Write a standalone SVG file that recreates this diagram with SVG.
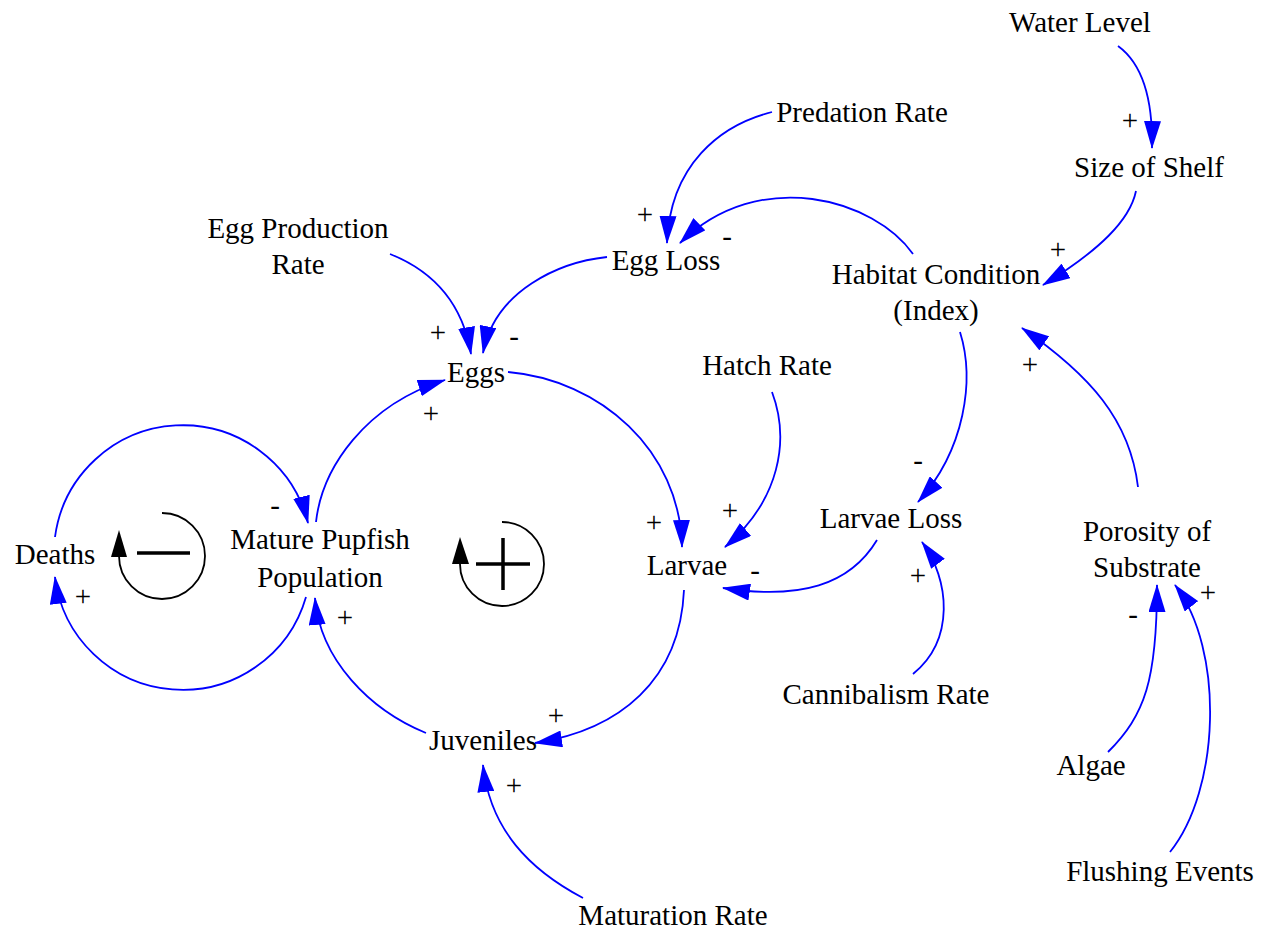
<svg xmlns="http://www.w3.org/2000/svg" width="1272" height="935" viewBox="0 0 1272 935">
<style>
.lbl{font-family:"Liberation Serif","Times New Roman",serif;font-size:29px;fill:#000;text-anchor:middle}
.link{fill:none;stroke:#0000ff;stroke-width:1.8;marker-end:url(#ah)}
.loop{fill:none;stroke:#000;stroke-width:1.8}
.sym{fill:none;stroke:#000;stroke-width:3.5}
</style>
<defs>
<marker id="ah" viewBox="0 0 28 17" refX="27" refY="8.5" markerWidth="28" markerHeight="17" markerUnits="userSpaceOnUse" orient="auto">
<path d="M0,0 L28,8.5 L0,17 z" fill="#0000ff"/>
</marker>
</defs>
<rect width="1272" height="935" fill="#fff"/>
<g id="connectors">
<path class="link" d="M1118,46 C1140,62 1153,95 1152,148"/>
<path class="link" d="M1136,191 C1130,220 1100,250 1043,285"/>
<path class="link" d="M772,112 C720,125 670,165 667,243"/>
<path class="link" d="M913,254 C875,200 760,165 680,243"/>
<path class="link" d="M607,257 C560,262 495,290 483,353"/>
<path class="link" d="M390,254 C430,270 462,300 471,354"/>
<path class="link" d="M316,522 C322,468 365,405 445,380"/>
<path class="link" d="M508,372 C600,380 680,450 682,547"/>
<path class="link" d="M772,392 C790,440 780,500 725,547"/>
<path class="link" d="M960,332 C975,380 965,450 918,502"/>
<path class="link" d="M877,540 C850,585 800,600 723,588"/>
<path class="link" d="M913,674 C955,640 950,580 922,542"/>
<path class="link" d="M1138,487 C1130,420 1090,375 1022,328"/>
<path class="link" d="M1108,752 C1145,715 1157,680 1157,585"/>
<path class="link" d="M1170,852 C1220,790 1225,650 1175,585"/>
<path class="link" d="M684,590 C680,680 620,730 535,743"/>
<path class="link" d="M583,898 C530,870 490,830 483,765"/>
<path class="link" d="M426,733 C370,710 320,660 315,598"/>
<path class="link" d="M306,597 A128.5,128.5 0 0 1 55,577"/>
<path class="link" d="M55,537 A129,129 0 0 1 308,523"/>
<g id="polarities">
<text class="lbl" x="1130" y="130">+</text>
<text class="lbl" x="1058" y="259">+</text>
<text class="lbl" x="645" y="224">+</text>
<text class="lbl" x="727" y="246">-</text>
<text class="lbl" x="514" y="346">-</text>
<text class="lbl" x="438" y="342">+</text>
<text class="lbl" x="431" y="423">+</text>
<text class="lbl" x="654" y="532">+</text>
<text class="lbl" x="730" y="520">+</text>
<text class="lbl" x="918" y="470">-</text>
<text class="lbl" x="755" y="580">-</text>
<text class="lbl" x="918" y="585">+</text>
<text class="lbl" x="1030" y="374">+</text>
<text class="lbl" x="1133" y="624">-</text>
<text class="lbl" x="1208" y="602">+</text>
<text class="lbl" x="556" y="725">+</text>
<text class="lbl" x="514" y="795">+</text>
<text class="lbl" x="345" y="627">+</text>
<text class="lbl" x="83" y="606">+</text>
<text class="lbl" x="275" y="515">-</text>
</g>
</g>
<g id="loop-balancing">
<path class="loop" d="M162,513 A43,43 0 1 1 119,556"/>
<path d="M119,530 L111,557 L127,557 z" fill="#000"/>
<line class="sym" x1="137" y1="553" x2="190" y2="553"/>
</g>
<g id="loop-reinforcing">
<path class="loop" d="M502,522 A42,42 0 1 1 460,564"/>
<path d="M460,537 L452,564 L469,564 z" fill="#000"/>
<line class="sym" x1="476" y1="564" x2="530" y2="564"/>
<line class="sym" x1="503" y1="538" x2="503" y2="590"/>
</g>
<g id="water-level"><text class="lbl" x="1080" y="32">Water Level</text></g>
<g id="predation-rate"><text class="lbl" x="862" y="122">Predation Rate</text></g>
<g id="size-of-shelf"><text class="lbl" x="1149" y="177">Size of Shelf</text></g>
<g id="egg-production-rate"><text class="lbl" x="298" y="238">Egg Production</text><text class="lbl" x="298" y="274">Rate</text></g>
<g id="egg-loss"><text class="lbl" x="666" y="270">Egg Loss</text></g>
<g id="habitat-condition"><text class="lbl" x="936" y="284">Habitat Condition</text><text class="lbl" x="936" y="320">(Index)</text></g>
<g id="eggs"><text class="lbl" x="476" y="382">Eggs</text></g>
<g id="hatch-rate"><text class="lbl" x="767" y="375">Hatch Rate</text></g>
<g id="larvae-loss"><text class="lbl" x="891" y="528">Larvae Loss</text></g>
<g id="larvae"><text class="lbl" x="687" y="575">Larvae</text></g>
<g id="cannibalism-rate"><text class="lbl" x="886" y="704">Cannibalism Rate</text></g>
<g id="deaths"><text class="lbl" x="55" y="564">Deaths</text></g>
<g id="mature-pupfish"><text class="lbl" x="320" y="549">Mature Pupfish</text><text class="lbl" x="320" y="587">Population</text></g>
<g id="porosity"><text class="lbl" x="1147" y="541">Porosity of</text><text class="lbl" x="1147" y="577">Substrate</text></g>
<g id="algae"><text class="lbl" x="1091" y="775">Algae</text></g>
<g id="flushing-events"><text class="lbl" x="1160" y="881">Flushing Events</text></g>
<g id="juveniles"><text class="lbl" x="483" y="750">Juveniles</text></g>
<g id="maturation-rate"><text class="lbl" x="673" y="925">Maturation Rate</text></g>
</svg>
